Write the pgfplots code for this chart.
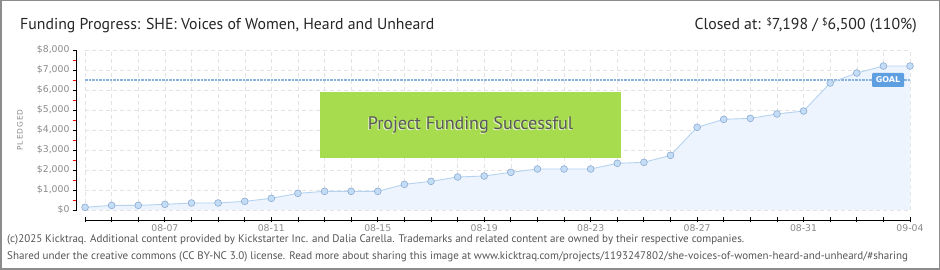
\documentclass[border=0pt]{standalone}
\usepackage{fontspec}
\setmainfont{PT Sans}
\newfontfamily\tickfont{DejaVu Sans}
\newfontfamily\spacedfont[LetterSpace=12]{DejaVu Sans}
\usepackage{pgfplots}
\pgfplotsset{compat=1.18}
\definecolor{gridc}{HTML}{E3E3E3}
\definecolor{labelc}{HTML}{8A8A8A}
\definecolor{areac}{HTML}{EDF4FD}
\definecolor{linec}{HTML}{B5D3F0}
\definecolor{markc}{HTML}{C3DDF7}
\definecolor{markb}{HTML}{8DAAD0}
\definecolor{goalc}{HTML}{8AB2E0}
\definecolor{boxc}{HTML}{A8DC4F}
\definecolor{goalbg}{HTML}{5E9FE2}
\definecolor{footc}{HTML}{555555}
\definecolor{framec}{HTML}{8C8C8C}
\pgfplotstableread{
x y
0 133
1 233
2 233
3 283
4 350
5 350
6 433
7 583
8 833
9 933
10 933
11 933
12 1283
13 1433
14 1650
15 1700
16 1883
17 2050
18 2050
19 2050
20 2333
21 2383
22 2733
23 4133
24 4533
25 4583
26 4800
27 4950
28 6350
29 6850
30 7198
31 7198
}\pledged
\begin{document}
\begin{tikzpicture}[x=1pt,y=1pt]
\fill[white] (0,0) rectangle (940,270);
\draw[framec, line width=1.5pt] (0.75,0.75) rectangle (939.25,269.25);
\node[anchor=base west, inner sep=0, font=\fontsize{15.8}{15.8}\selectfont, text=black!85] at (20,240) {Funding Progress: SHE: Voices of Women, Heard and Unheard};
\node[anchor=base east, inner sep=0, font=\fontsize{15.8}{15.8}\selectfont, text=black!85] at (917,240) {Closed at: \raisebox{4pt}{\fontsize{10}{10}\selectfont\$}7,198 / \raisebox{4pt}{\fontsize{10}{10}\selectfont\$}6,500 (110\%)};
\begin{axis}[at={(76pt,50pt)}, anchor=south west, scale only axis,
  width=834pt, height=170pt,
  xmin=-0.34, xmax=31, ymin=-500, ymax=8000,
  axis line style={draw=none}, major tick style={draw=none}, minor tick style={draw=none},
  xtick={0,...,31},
  xticklabels={,,,08-07,,,,08-11,,,,08-15,,,,08-19,,,,08-23,,,,08-27,,,,08-31,,,,09-04},
  ytick={0,1000,...,8000},
  yticklabels={\$0,{\$1,000},{\$2,000},{\$3,000},{\$4,000},{\$5,000},{\$6,000},{\$7,000},{\$8,000}},
  tick label style={font=\tickfont\fontsize{9.3}{9.3}\selectfont, text=labelc},
  yticklabel style={xshift=-3pt},
  xticklabel style={yshift=-1.5pt},
  clip=false]
\pgfplotsinvokeforeach{0,...,31}{\draw[gridc, dash pattern=on 4pt off 3pt] (axis cs:#1,0) -- (axis cs:#1,8000);}
\pgfplotsinvokeforeach{0,1000,...,8000}{\draw[gridc, dash pattern=on 4pt off 3pt] (axis cs:0,#1) -- (axis cs:31,#1);}
\addplot[fill=areac, draw=none] table[x=x,y=y] {\pledged} \closedcycle;
\draw[goalc, line width=2pt, dash pattern=on 2.5pt off 1pt] (axis cs:0,6500) -- (axis cs:31,6500);
\addplot[color=linec, line width=0.9pt, mark=*, mark size=3.4pt, mark options={fill=markc, draw=markb, line width=0.6pt}] table[x=x,y=y] {\pledged};
% axis lines
\draw[black, line width=0.8pt] (axis cs:-0.34,0) -- (axis cs:-0.34,8000);
\draw[black, line width=0.8pt] (axis cs:0,-500) -- (axis cs:31,-500);
\pgfplotsinvokeforeach{0,1000,...,8000}{\draw[black, line width=0.8pt] (axis cs:-0.34,#1) ++(-3.3pt,0pt) -- ++(4.6pt,0pt);}
\pgfplotsinvokeforeach{500,1500,...,7500}{\draw[red, line width=0.8pt] (axis cs:-0.34,#1) ++(-3.3pt,0pt) -- ++(3.3pt,0pt);}
\pgfplotsinvokeforeach{0,...,31}{\draw[black, line width=0.8pt] (axis cs:#1,-500) ++(0pt,-2.5pt) -- ++(0pt,5pt);}
\end{axis}
\node[rotate=90, font=\spacedfont\fontsize{7.5}{7.5}\selectfont, text=labelc] at (20,140) {PLEDGED};
% success box
\fill[boxc] (320,112) rectangle (621,178);
\node[font=\fontsize{18}{18}\selectfont, text=white!70!boxc] at (469.5,144) {Project Funding Successful};
\node[font=\fontsize{18}{18}\selectfont, text=black!65] at (470.5,145) {Project Funding Successful};
% goal label
\fill[goalbg, rounded corners=1pt] (872,183) rectangle (904,197);
\node[font=\tickfont\bfseries\fontsize{8}{8}\selectfont, text=white] at (888,190) {GOAL};
% footer
\node[anchor=base west, inner sep=0, font=\fontsize{11}{11}\selectfont, text=footc] at (7,27) {(c)2025 Kicktraq. Additional content provided by Kickstarter Inc. and Dalia Carella. Trademarks and related content are owned by their respective companies.};
\node[anchor=base west, inner sep=0, font=\fontsize{11}{11}\selectfont, text=footc] at (7,10) {Shared under the creative commons (CC BY-NC 3.0) license. Read more about sharing this image at www.kicktraq.com/projects/1193247802/she-voices-of-women-heard-and-unheard/\#sharing};
\end{tikzpicture}
\end{document}
